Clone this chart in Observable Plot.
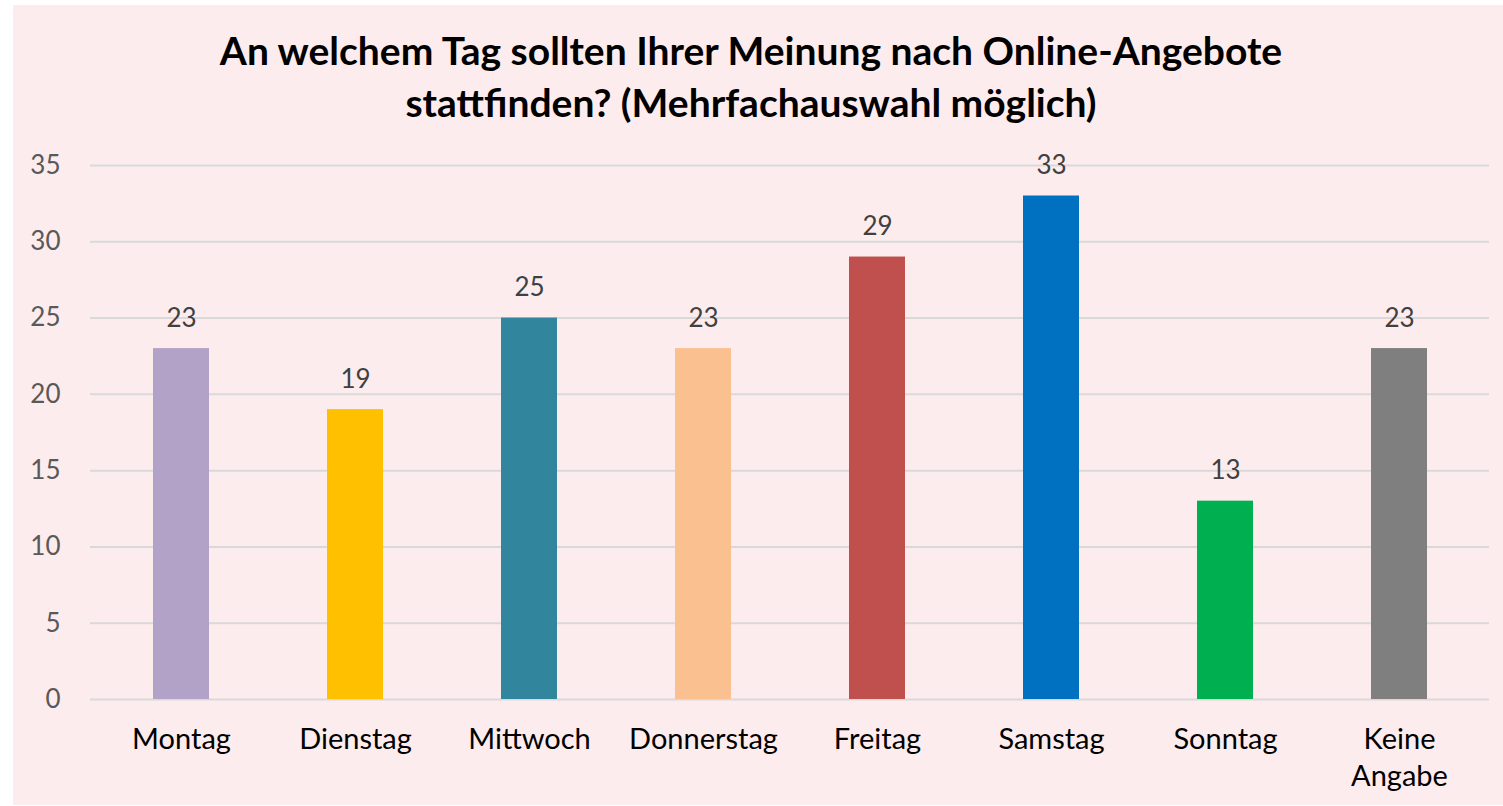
<!DOCTYPE html>
<html>
<head>
<meta charset="utf-8">
<script src="https://cdn.jsdelivr.net/npm/d3@7"></script>
<script src="https://cdn.jsdelivr.net/npm/@observablehq/plot@0.6"></script>
<style>
  html, body { margin: 0; padding: 0; background: #ffffff; width: 1503px; height: 806px; overflow: hidden; }
  #wrap { position: absolute; left: 13px; top: 5px; width: 1490px; height: 800px; background: #FDECED; font-family: Lato, "Open Sans", sans-serif; }
  #title { position: absolute; left: 0; top: 19px; width: 1476px; text-align: center; font-weight: bold; font-size: 39px; line-height: 52px; color: #000; }
  #chart { position: absolute; left: 0; top: 135px; }
</style>
</head>
<body>
<div id="wrap">
  <div id="title">An welchem Tag sollten Ihrer Meinung nach Online-Angebote<br>stattfinden? (Mehrfachauswahl möglich)</div>
  <div id="chart"></div>
</div>
<script>
const days = ["Montag", "Dienstag", "Mittwoch", "Donnerstag", "Freitag", "Samstag", "Sonntag", "Keine Angabe"];
const counts = [23, 19, 25, 23, 29, 33, 13, 23];
const barColors = ["#B3A2C7", "#FFC000", "#31859C", "#FAC090", "#C0504D", "#0070C0", "#00B050", "#7F7F7F"];
const dayLabels = ["Montag", "Dienstag", "Mittwoch", "Donnerstag", "Freitag", "Samstag", "Sonntag", "Keine\nAngabe"];
const yTicks = [0, 5, 10, 15, 20, 25, 30, 35];

const data = days.map((d, i) => ({day: d, value: counts[i]}));
const labelOf = new Map(days.map((d, i) => [d, dayLabels[i]]));

const chart = Plot.plot({
  width: 1490,
  height: 665,
  marginLeft: 77,
  marginRight: 14,
  marginTop: 25,
  marginBottom: 106,
  style: {background: "transparent", fontFamily: "Lato, 'Open Sans', sans-serif"},
  x: {domain: days, paddingInner: 0.68, paddingOuter: 0.34, label: null},
  y: {domain: [0, 35], label: null},
  color: {domain: days, range: barColors},
  marks: [
    Plot.ruleY(yTicks, {stroke: "#D9D9D9", strokeWidth: 2}),
    Plot.barY(data, {x: "day", y: "value", fill: "day"}),
    Plot.text(data, {x: "day", y: "value", text: d => String(d.value), dy: -30, fontSize: 26, fill: "#404040", lineAnchor: "middle"}),
    Plot.axisY(yTicks, {tickSize: 0, tickPadding: 30, fontSize: 26, color: "#595959", label: null}),
    Plot.axisX({tickSize: 0, tickPadding: 24, fontSize: 29, color: "#000000", lineHeight: 1.26, tickFormat: d => labelOf.get(d), label: null})
  ]
});
document.getElementById("chart").appendChild(chart);
</script>
</body>
</html>
